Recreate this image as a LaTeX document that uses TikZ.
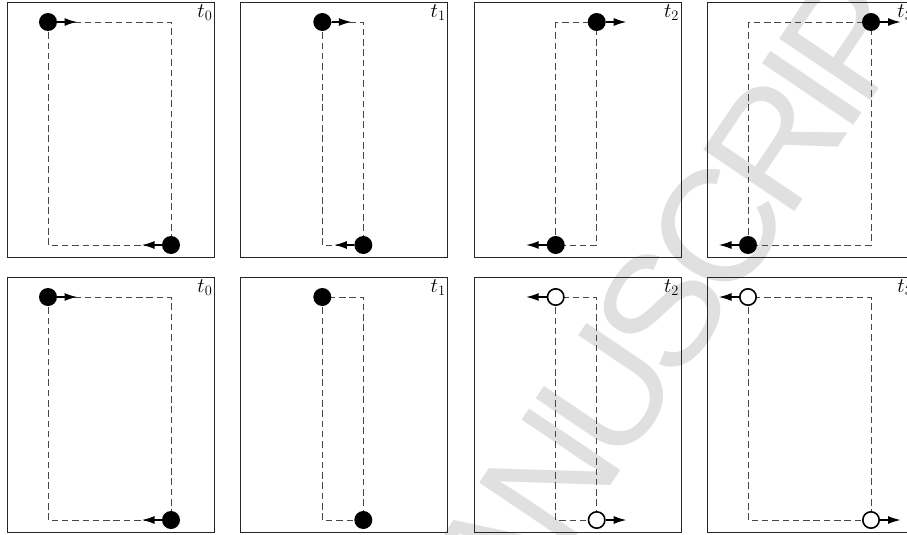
\documentclass[tikz,border=0pt]{standalone}
\usepackage{fontspec}
\newfontfamily\wmfont[LetterSpace=-8]{Liberation Sans}
\usetikzlibrary{arrows.meta}
\tikzset{
  frame/.style={draw=black!85, line width=1pt, minimum width=207pt, minimum height=255pt, anchor=north west, inner sep=0pt},
  track/.style={draw=black!72, line width=0.95pt, dash pattern=on 6.5pt off 3.8pt},
  fdot/.style={circle, fill=black, inner sep=0pt, minimum size=18pt},
  odot/.style={circle, draw=black, fill=white, line width=1.6pt, inner sep=0pt, minimum size=16.4pt},
  mv/.style={line width=1.2pt, -{Latex[length=12.5pt,width=8pt]}},
  tlab/.style={anchor=north east, inner sep=2.5pt, font=\fontsize{19.5}{21}\selectfont},
  wmark/.style={rotate=56, anchor=base west, text=black!12, inner sep=0pt, font=\wmfont\fontsize{160}{165}\selectfont}
}
\begin{document}
\begin{tikzpicture}[x=1pt,y=-1pt]
\useasboundingbox (0,0) rectangle (907,535);
\clip (0,0) rectangle (907,535);
\node[wmark] (wm) at (443,734) {MANUSCRIPT};

% ---------- top row ----------
\begin{scope}[shift={(7,2)}]
  \node[frame] (p1) at (0,0) {};
  \node[tlab] (l1) at (p1.north east) {$t_0$};
  \draw[track] (41,20) rectangle (164,243);
  \node[fdot] (p1a) at (41,20) {};
  \coordinate (p1at) at (70,20);
  \draw[mv] (p1a) -- (p1at);
  \node[fdot] (p1b) at (164,243) {};
  \coordinate (p1bt) at (135,243);
  \draw[mv] (p1b) -- (p1bt);
\end{scope}

\begin{scope}[shift={(240.3,2)}]
  \node[frame] (p2) at (0,0) {};
  \node[tlab] (l2) at (p2.north east) {$t_1$};
  \draw[track] (82,20) rectangle (123,243);
  \node[fdot] (p2a) at (82,20) {};
  \coordinate (p2at) at (111,20);
  \draw[mv] (p2a) -- (p2at);
  \node[fdot] (p2b) at (123,243) {};
  \coordinate (p2bt) at (94,243);
  \draw[mv] (p2b) -- (p2bt);
\end{scope}

\begin{scope}[shift={(473.7,2)}]
  \node[frame] (p3) at (0,0) {};
  \node[tlab] (l3) at (p3.north east) {$t_2$};
  \draw[track] (82,20) rectangle (123,243);
  \node[fdot] (p3a) at (123,20) {};
  \coordinate (p3at) at (152.5,20);
  \draw[mv] (p3a) -- (p3at);
  \node[fdot] (p3b) at (82,243) {};
  \coordinate (p3bt) at (52.5,243);
  \draw[mv] (p3b) -- (p3bt);
\end{scope}

\begin{scope}[shift={(707,2)}]
  \node[frame] (p4) at (0,0) {};
  \node[tlab] (l4) at (p4.north east) {$t_3$};
  \draw[track] (41,20) rectangle (164,243);
  \node[fdot] (p4a) at (164,20) {};
  \coordinate (p4at) at (193.5,20);
  \draw[mv] (p4a) -- (p4at);
  \node[fdot] (p4b) at (41,243) {};
  \coordinate (p4bt) at (12,243);
  \draw[mv] (p4b) -- (p4bt);
\end{scope}

% ---------- bottom row ----------
\begin{scope}[shift={(7,277)}]
  \node[frame] (p5) at (0,0) {};
  \node[tlab] (l5) at (p5.north east) {$t_0$};
  \draw[track] (41,20) rectangle (164,243);
  \node[fdot] (p5a) at (41,20) {};
  \coordinate (p5at) at (70,20);
  \draw[mv] (p5a) -- (p5at);
  \node[fdot] (p5b) at (164,243) {};
  \coordinate (p5bt) at (135,243);
  \draw[mv] (p5b) -- (p5bt);
\end{scope}

\begin{scope}[shift={(240.3,277)}]
  \node[frame] (p6) at (0,0) {};
  \node[tlab] (l6) at (p6.north east) {$t_1$};
  \draw[track] (82,20) rectangle (123,243);
  \node[fdot] (p6a) at (82,20) {};
  \node[fdot] (p6b) at (123,243) {};
\end{scope}

\begin{scope}[shift={(473.7,277)}]
  \node[frame] (p7) at (0,0) {};
  \node[tlab] (l7) at (p7.north east) {$t_2$};
  \draw[track] (82,20) rectangle (123,243);
  \node[odot] (p7a) at (82,20) {};
  \coordinate (p7at) at (52.5,20);
  \draw[mv] (p7a) -- (p7at);
  \node[odot] (p7b) at (123,243) {};
  \coordinate (p7bt) at (152.5,243);
  \draw[mv] (p7b) -- (p7bt);
\end{scope}

\begin{scope}[shift={(707,277)}]
  \node[frame] (p8) at (0,0) {};
  \node[tlab] (l8) at (p8.north east) {$t_3$};
  \draw[track] (41,20) rectangle (164,243);
  \node[odot] (p8a) at (41,20) {};
  \coordinate (p8at) at (12,20);
  \draw[mv] (p8a) -- (p8at);
  \node[odot] (p8b) at (164,243) {};
  \coordinate (p8bt) at (193.5,243);
  \draw[mv] (p8b) -- (p8bt);
\end{scope}
\end{tikzpicture}
\end{document}
